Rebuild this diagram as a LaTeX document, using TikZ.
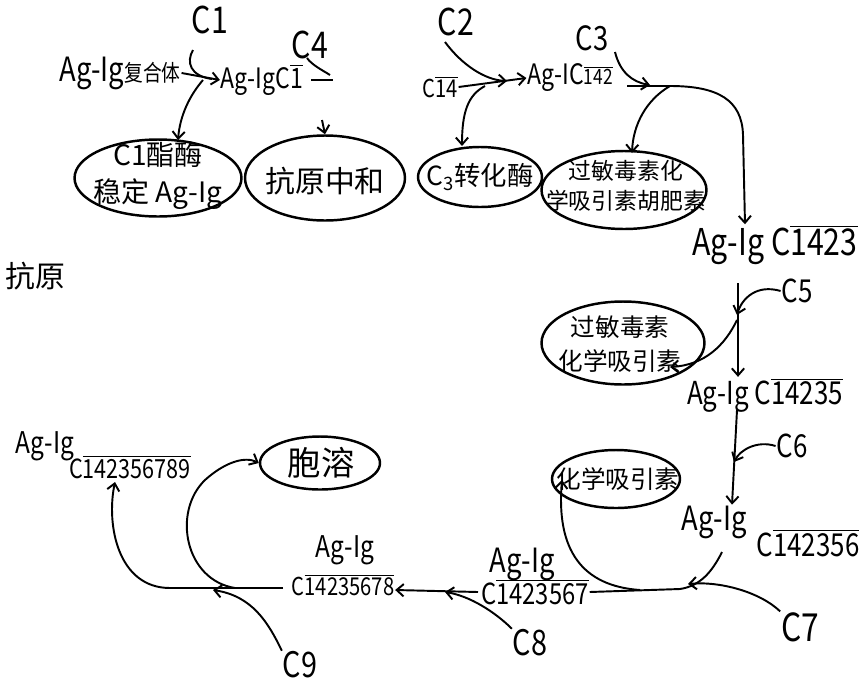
\documentclass[tikz,border=0pt]{standalone}
\usepackage{fontspec}
\setmainfont{Noto Sans CJK SC}
\newfontfamily\hw[FakeStretch=0.82]{Noto Sans CJK SC}
\usetikzlibrary{arrows.meta,shapes.geometric}
\newcommand{\fs}[1]{\fontsize{#1}{#1}\selectfont}
\newcommand{\fsb}[2]{\fontsize{#1}{#2}\selectfont}
\newcommand{\ovl}[1]{$\overline{\mbox{#1}}$}
\begin{document}
\begin{tikzpicture}[x=0.02cm,y=-0.02cm,line width=1.1pt,
  >={Straight Barb[length=4pt,width=7pt]},
  txt/.style={inner sep=0pt,font=\hw},
  ell/.style={draw,ellipse,line width=1.4pt,inner sep=0pt}]
\useasboundingbox (0,0) rectangle (868,683);
\clip (0,0) rectangle (868,683);
\fill[white] (0,0) rectangle (868,683);

% ---- top row texts
\node[txt,font=\hw\fs{21}] (c1) at (210,20) {C1};
\node[txt,font=\hw\fs{21}] (c4) at (310,45) {C4};
\node[txt,font=\hw\fs{21}] (c2) at (456,22) {C2};
\node[txt,font=\hw\fs{19}] (c3) at (592,38) {C3};
\node[txt] (n0) at (120,73) {{\fs{19}Ag-Ig}{\fs{13}复合体}};
\node[txt,font=\hw\fs{16}] (n1) at (262,80) {Ag-IgC\ovl{1}};
\node[txt,font=\hw\fs{14}] (c14) at (440,87) {C\ovl{14}};
\node[txt] (n2) at (570,78) {{\fs{16}Ag-IC}{\fs{12}\ovl{142}}};
\node[txt,font=\hw\fs{21}] (n3) at (775,245) {Ag-Ig C\ovl{1423}};
\node[txt,font=\fs{17},anchor=east] (left) at (66,276) {抗原};

% ---- ellipses row
\node[ell,minimum width=3.34cm,minimum height=1.54cm] (e1) at (158,178) {};
\node[inner sep=0pt,align=center,font=\fsb{16}{21}] (e1t) at (158,176) {C1酯酶\\稳定 Ag-Ig};
\node[ell,minimum width=3.2cm,minimum height=1.7cm] (e2) at (325,178) {};
\node[inner sep=0pt,font=\fs{17}] (e2t) at (325,181) {抗原中和};
\node[ell,minimum width=2.48cm,minimum height=1.2cm] (e3) at (480,177) {};
\node[inner sep=0pt,font=\fs{15}] (e3t) at (480,177) {C\textsubscript{3}转化酶};
\node[ell,minimum width=3.3cm,minimum height=1.56cm] (e4) at (624,190) {};
\node[inner sep=0pt,align=center,font=\fsb{13}{17}] (e4t) at (626,186) {过敏毒素化\\学吸引素胡肥素};

% ---- right column
\node[txt,font=\hw\fs{18}] (c5) at (797,291) {C5};
\node[ell,minimum width=3.26cm,minimum height=1.66cm] (e5) at (623,343) {};
\node[inner sep=0pt,align=center,font=\fsb{14}{19}] (e5t) at (620,344) {过敏毒素\\化学吸引素};
\node[txt,font=\hw\fs{18}] (n4) at (765,395) {Ag-Ig C\ovl{14235}};
\node[txt,font=\hw\fs{18}] (c6) at (792,446) {C6};
\node[txt,font=\hw\fs{19}] (n5) at (714,522) {Ag-Ig};
\node[txt,font=\hw\fs{18}] (n6) at (808,543) {C\ovl{142356}};
\node[ell,minimum width=2.56cm,minimum height=1.16cm] (e6) at (616,479) {};
\node[inner sep=0pt,font=\fs{14}] (e6t) at (618,479) {化学吸引素};
\node[txt,font=\hw\fs{22}] (c7) at (800,627) {C7};

% ---- bottom row
\node[txt,font=\hw\fs{19}] (n7) at (522,564) {Ag-Ig};
\node[txt,font=\hw\fs{16.5}] (n8) at (535,592) {C\ovl{1423567}};
\node[txt,font=\hw\fs{20}] (c8) at (530,643) {C8};
\node[txt,font=\hw\fs{17}] (n9) at (345,550) {Ag-Ig};
\node[txt,font=\hw\fs{14}] (n10) at (343,585) {C\ovl{14235678}};
\node[txt,font=\hw\fs{20}] (c9) at (300,665) {C9};
\node[txt,font=\hw\fs{17}] (n11) at (45,446) {Ag-Ig};
\node[txt,font=\hw\fs{15}] (n12) at (130,467) {C\ovl{142356789}};
\node[ell,minimum width=2.4cm,minimum height=1.06cm] (e7) at (320,463) {};
\node[inner sep=0pt,font=\fs{19}] (e7t) at (321,463) {胞溶};

% ---- named junction points
\coordinate (j1) at (203,80);
\coordinate (c1s) at (193,50);
\coordinate (c4s) at (307,58);
\coordinate (c4e) at (330,75);
\coordinate (dash) at (333,80);
\coordinate (a2) at (322,120);
\coordinate (c2s) at (445,42);
\coordinate (j2) at (485,86);
\coordinate (c3s) at (615,52);
\coordinate (n2r) at (627,86);
\coordinate (j3) at (670,86);
\coordinate (v1) at (738,283);
\coordinate (j5) at (737,320);
\coordinate (v2) at (737,410);
\coordinate (k1) at (722,552);
\coordinate (k2) at (680,589);
\coordinate (k3) at (640,590);
\coordinate (k4) at (478,592);
\coordinate (m1) at (283,588);
\coordinate (m2) at (235,588);
\coordinate (m3) at (170,588);

% ---- connectors top
\draw[->] (n0.east) -- (n1.west);
\draw (c1s) .. controls (186,62) and (190,76) .. (212,79);
\draw[->] (j1) .. controls (190,95) and (180,115) .. (178,140);
\draw (c4s) .. controls (312,65) and (322,70) .. (c4e);
\draw ([xshift=4pt]n1.east) -- (dash);
\draw[->] (a2) -- (e2.north);
\draw[->] (c14.east) -- (n2.west);
\draw[->] (c2s) .. controls (462,65) and (485,80) .. (507,81);
\draw[->] (j2) .. controls (468,95) and (462,112) .. (462,146);
\draw[->] (c3s) .. controls (620,72) and (632,82) .. (650,85);
\draw[->] (n2r) -- (j3) .. controls (718,86) and (742,100) .. (743,135) -- (n3.north -| 745,0);
\draw[->] (j3) .. controls (646,100) and (633,125) .. (632,153);

% ---- right column connectors
\draw[->] (v1) -- (n4.north -| v1);
\draw[->] (c5.west) .. controls (757,284) and (742,298) .. (737,315);
\draw[->] (j5) .. controls (725,345) and (705,365) .. (670,367);
\draw[->] (v2) -- (n5.north -| 732,0);
\draw[->] (c6.west) .. controls (757,440) and (740,450) .. (734,462);
\draw (k1) .. controls (712,572) and (700,586) .. (k2) -- (n8.east);
\draw[->] (k3) .. controls (582,586) and (556,550) .. (562,480);
\draw[->] (c7.north west) .. controls (760,592) and (720,581) .. (688,584);

% ---- bottom connectors
\draw[->] (k4) -- (n10.east |- 0,590);
\draw[->] (c8.north west) .. controls (495,612) and (470,596) .. (445,592);
\draw (m1) -- (m3);
\draw[->] (m3) .. controls (118,588) and (106,525) .. (115,482);
\draw[->] (m2) .. controls (185,580) and (172,512) .. (205,480) .. controls (225,462) and (245,456) .. (e7.west);
\draw[->] (c9.north west) .. controls (268,622) and (252,596) .. (213,590);
\end{tikzpicture}
\end{document}
